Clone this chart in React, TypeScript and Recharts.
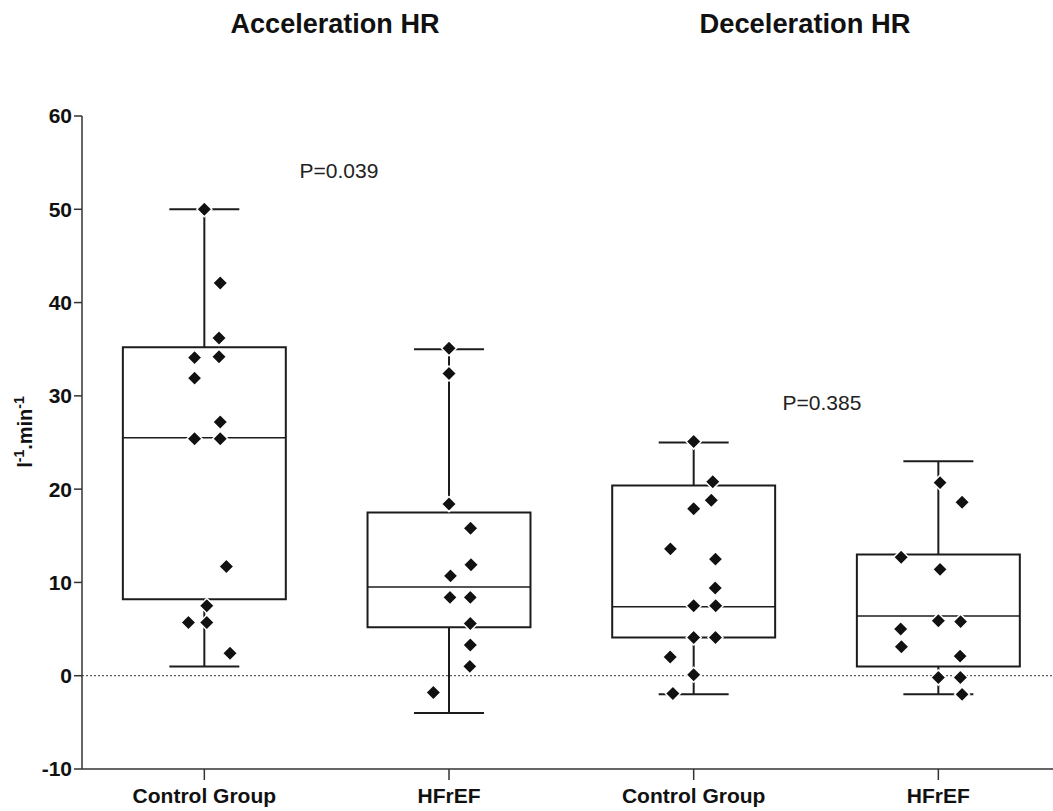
import { ComposedChart, Scatter, XAxis, YAxis, ReferenceArea, ReferenceLine } from "recharts"

const groups = ["Control Group", "HFrEF", "Control Group", "HFrEF"]
const panelTitles = ["Acceleration  HR", "Deceleration  HR"]
const pValues = ["P=0.039", "P=0.385"]
const yTicks = [-10, 0, 10, 20, 30, 40, 50, 60]

// box stats, one entry per group
const mins = [1, -4, -2, -2]
const q1s = [8.2, 5.2, 4.1, 1.0]
const medians = [25.5, 9.5, 7.4, 6.4]
const q3s = [35.2, 17.5, 20.4, 13.0]
const maxs = [50, 35, 25, 23]

// individual values (y) with their horizontal scatter offset
const accelControl = [50, 42.1, 36.2, 34.1, 34.2, 31.9, 27.2, 25.4, 25.4, 11.7, 7.5, 5.7, 5.7, 2.4]
const accelControlJitter = [0, 0.065, 0.06, -0.04, 0.06, -0.04, 0.065, -0.04, 0.065, 0.09, 0.01, -0.065, 0.01, 0.105]
const accelHf = [35.1, 32.4, 18.4, 15.8, 11.9, 10.7, 8.4, 8.4, 5.6, 3.3, 1.0, -1.8]
const accelHfJitter = [0, 0, 0, 0.088, 0.09, 0.006, 0.004, 0.087, 0.087, 0.087, 0.085, -0.064]
const decelControl = [25.1, 20.8, 18.8, 17.9, 13.6, 12.5, 9.4, 7.5, 7.5, 4.1, 4.1, 2.0, 0.1, -1.9]
const decelControlJitter = [0, 0.078, 0.072, 0, -0.095, 0.089, 0.088, 0, 0.09, 0, 0.089, -0.096, 0, -0.085]
const decelHf = [20.7, 18.6, 12.7, 11.4, 5.9, 5.8, 5.0, 3.1, 2.1, -0.2, -0.2, -2.0]
const decelHfJitter = [0.007, 0.097, -0.152, 0.007, 0, 0.091, -0.154, -0.151, 0.089, 0, 0.09, 0.097]

const seriesValues = [accelControl, accelHf, decelControl, decelHf]
const seriesJitter = [accelControlJitter, accelHfJitter, decelControlJitter, decelHfJitter]

const points = seriesValues.flatMap((vals, g) =>
  vals.map((y, i) => ({ x: g + 1 + seriesJitter[g][i], y }))
)

const INK = "#1c1c1c"
const BOX_HALF = 0.333
const CAP_HALF = 0.143

const Diamond = (props: any) => {
  const { cx, cy } = props
  const r = 7.5
  return (
    <polygon
      points={`${cx},${cy - r} ${cx + r},${cy} ${cx},${cy + r} ${cx - r},${cy}`}
      fill="#111"
      stroke="#fff"
      strokeWidth={1.5}
    />
  )
}

export default function App() {
  return (
    <div style={{ position: "relative", width: 1053, height: 811, fontFamily: "Liberation Sans, Arial, sans-serif" }}>
      <style>{`body{margin:0;overflow:hidden}`}</style>
      <ComposedChart width={1053} height={811} margin={{ top: 116, right: 0, bottom: 0, left: 0 }}>
        <XAxis
          type="number"
          dataKey="x"
          domain={[0.5, 4.4686]}
          ticks={[1, 2, 3, 4]}
          allowDataOverflow
          tickFormatter={(v) => groups[v - 1]}
          height={42}
          tickSize={11}
          tickMargin={8}
          stroke="#333"
          strokeWidth={1.5}
          tick={{ fill: "#111", fontSize: 21, fontWeight: "bold", fontFamily: "Liberation Sans, Arial" }}
        />
        <YAxis
          type="number"
          dataKey="y"
          domain={[-10, 60]}
          ticks={yTicks}
          allowDataOverflow
          width={82}
          tickSize={8}
          tickMargin={2}
          stroke="#333"
          strokeWidth={1.5}
          tick={{ fill: "#111", fontSize: 21, fontWeight: "bold", fontFamily: "Liberation Sans, Arial" }}
        />
        <ReferenceLine y={0} stroke="#333" strokeDasharray="2 2" strokeWidth={1} />
        {groups.map((_, g) => {
          const c = g + 1
          return (
            <ReferenceArea
              key={`box${g}`}
              x1={c - BOX_HALF}
              x2={c + BOX_HALF}
              y1={q1s[g]}
              y2={q3s[g]}
              fill="#fff"
              fillOpacity={0}
              stroke={INK}
              strokeWidth={2}
            />
          )
        })}
        {groups.map((_, g) => {
          const c = g + 1
          return [
            <ReferenceLine key={`med${g}`} segment={[{ x: c - BOX_HALF, y: medians[g] }, { x: c + BOX_HALF, y: medians[g] }]} stroke={INK} strokeWidth={1.5} />,
            <ReferenceLine key={`wu${g}`} segment={[{ x: c, y: q3s[g] }, { x: c, y: maxs[g] }]} stroke={INK} strokeWidth={2} />,
            <ReferenceLine key={`wl${g}`} segment={[{ x: c, y: mins[g] }, { x: c, y: q1s[g] }]} stroke={INK} strokeWidth={2} />,
            <ReferenceLine key={`cu${g}`} segment={[{ x: c - CAP_HALF, y: maxs[g] }, { x: c + CAP_HALF, y: maxs[g] }]} stroke={INK} strokeWidth={2} />,
            <ReferenceLine key={`cl${g}`} segment={[{ x: c - CAP_HALF, y: mins[g] }, { x: c + CAP_HALF, y: mins[g] }]} stroke={INK} strokeWidth={2} />,
          ]
        })}
        <Scatter data={points} shape={<Diamond />} isAnimationActive={false} />
        <text x={335} y={33} textAnchor="middle" fontSize={27} fontWeight="bold" fill="#111" textLength={209} lengthAdjust="spacingAndGlyphs">
          {panelTitles[0]}
        </text>
        <text x={805} y={33} textAnchor="middle" fontSize={27} fontWeight="bold" fill="#111" textLength={211} lengthAdjust="spacingAndGlyphs">
          {panelTitles[1]}
        </text>
        <text x={339} y={178} textAnchor="middle" fontSize={21} fill="#222">
          {pValues[0]}
        </text>
        <text x={822} y={410} textAnchor="middle" fontSize={21} fill="#222">
          {pValues[1]}
        </text>
        <text transform="rotate(-90, 32, 432)" x={32} y={432} textAnchor="middle" fontSize={20} fontWeight="bold" fill="#111">
          <tspan>l</tspan>
          <tspan dy={-8} fontSize={14}>-1</tspan>
          <tspan dy={8}>.min</tspan>
          <tspan dy={-8} fontSize={14}>-1</tspan>
        </text>
      </ComposedChart>
    </div>
  )
}
